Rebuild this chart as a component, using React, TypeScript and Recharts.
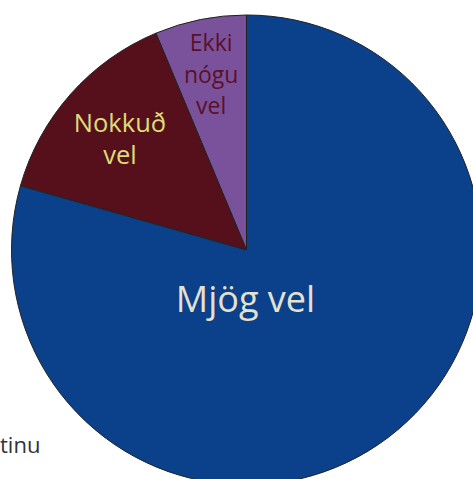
import React from "react";
import { PieChart, Pie, Cell } from "recharts";

// Hlutföll svara (%)
const categories = ["Ekki nógu vel", "Nokkuð vel", "Mjög vel"];
const values = [6.3, 14.3, 79.4];
const labelLines = [["Ekki", "nógu", "vel"], ["Nokkuð", "vel"], ["Mjög vel"]];

const colors = ["#7a529c", "#55101c", "#0a418a"];
const labelColors = ["#5a1028", "#dedc78", "#e6e0cf"];

const data = categories.map((name, i) => ({ name, value: values[i] }));

const FONT = "'Open Sans', sans-serif";

const renderLabel = (props: any) => {
  const { cx, cy, midAngle, outerRadius, index } = props;
  const RAD = Math.PI / 180;
  const lines = labelLines[index];
  if (index === 2) {
    return (
      <text x={cx - 1} y={cy + 48} fill={labelColors[index]} fontSize={36} fontWeight={500}
        fontFamily={FONT} textAnchor="middle" dominantBaseline="central">
        {lines[0]}
      </text>
    );
  }
  const r = outerRadius * (index === 0 ? 0.765 : 0.72);
  const x = cx + r * Math.cos(-midAngle * RAD);
  const y = cy + r * Math.sin(-midAngle * RAD);
  const lh = index === 0 ? 31.7 : 32.3;
  const fs = index === 0 ? 23 : 25.5;
  const startY = y - ((lines.length - 1) * lh) / 2;
  return (
    <text fill={labelColors[index]} fontSize={fs} fontWeight={500} fontFamily={FONT}
      textAnchor="middle" dominantBaseline="central">
      {lines.map((l, i) => (
        <tspan key={i} x={x} y={startY + i * lh}>{l}</tspan>
      ))}
    </text>
  );
};

export default function App() {
  return (
    <div style={{ position: "absolute", left: 0, top: 0, width: 473, height: 479, background: "#fff" }}>
      <PieChart width={473} height={479} margin={{ top: 0, right: 0, bottom: 0, left: 0 }}>
        <text x={0} y={453} textAnchor="start" fontSize={22} fill="#333" fontFamily={FONT}>
          tinu
        </text>
        <Pie
          data={data}
          dataKey="value"
          nameKey="name"
          cx={246.5}
          cy={250}
          outerRadius={235}
          startAngle={90}
          endAngle={450}
          stroke="#222"
          strokeWidth={1}
          label={renderLabel}
          labelLine={false}
          isAnimationActive={false}
        >
          {data.map((d, i) => (
            <Cell key={d.name} fill={colors[i]} />
          ))}
        </Pie>
      </PieChart>
    </div>
  );
}
